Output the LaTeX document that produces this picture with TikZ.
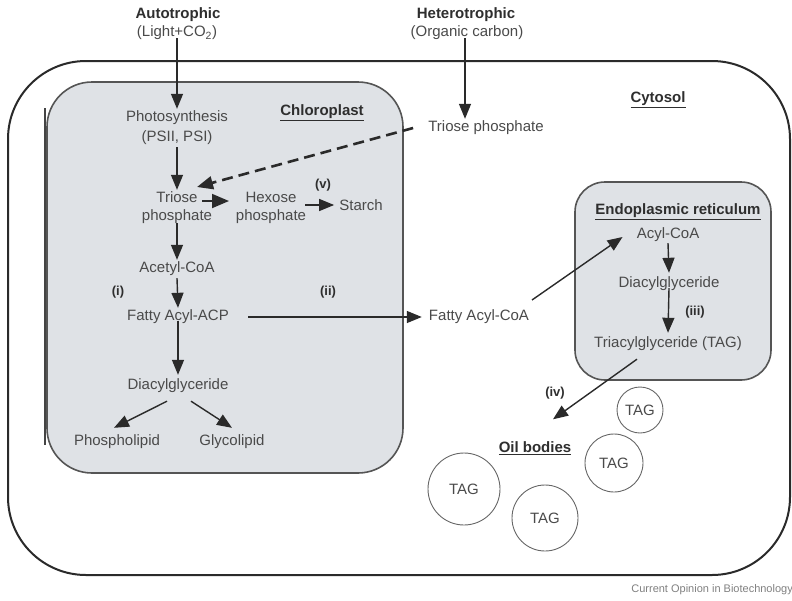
\documentclass[tikz,border=0pt]{standalone}
\usepackage{fontspec}
\setmainfont{Liberation Sans}
\usetikzlibrary{arrows.meta}
\definecolor{txtc}{HTML}{4A4A4A}
\definecolor{lblc}{HTML}{2E2E2E}
\definecolor{arrc}{HTML}{2A2A2A}
\definecolor{orgfill}{HTML}{DFE2E6}
\definecolor{orgline}{HTML}{555555}
\tikzset{
  txt/.style={font=\fontsize{15}{18}\selectfont, text=txtc, inner sep=2pt, align=center},
  lbl/.style={font=\fontsize{15}{18}\selectfont\bfseries, text=lblc, inner sep=2pt},
  num/.style={font=\fontsize{13}{15}\selectfont\bfseries, text=lblc, inner sep=1pt},
  arr/.style={draw=arrc, line width=1.4pt, -{Triangle[length=15pt,width=12pt]}},
  organelle/.style={draw=orgline, fill=orgfill, line width=1.6pt},
  drop/.style={circle, draw=gray!80!black, line width=0.9pt, font=\fontsize{15}{18}\selectfont, text=txtc, inner sep=0pt},
}
\begin{document}
\begin{tikzpicture}[x=1pt,y=-1pt]
\useasboundingbox (0,0) rectangle (792,600);
% cell
\node[draw=arrc, line width=2pt, rounded corners=78pt, minimum width=782pt, minimum height=514pt, inner sep=0pt] (cell) at (399,318) {};
% chloroplast
\node[organelle, rounded corners=45pt, minimum width=356pt, minimum height=391pt, inner sep=0pt] (chl) at (225,277.5) {};
\draw[draw=orgline!80!black, line width=1.4pt] (45,108) -- (45,445);
% ER
\node[organelle, rounded corners=30pt, minimum width=196pt, minimum height=198pt, inner sep=0pt] (er) at (673,281) {};

% top inputs
\node[lbl] (auto) at (178,15) {Autotrophic};
\node[txt] (autol) at (177,33) {(Light+CO\textsubscript{2})};
\node[lbl] (het) at (466,15) {Heterotrophic};
\node[txt] (hetl) at (467,33) {(Organic carbon)};

% labels
\node[lbl] (chllbl) at (322,113) {\underline{Chloroplast}};
\node[lbl] (cyt) at (658,100) {\underline{Cytosol}};
\node[lbl] (erlbl) at (678,212) {\underline{Endoplasmic reticulum}};
\node[lbl] (oil) at (535,448) {\underline{Oil bodies}};

% chloroplast contents
\node[txt] (ps) at (177,118) {Photosynthesis};
\node[txt] (ps2) at (177,138) {(PSII, PSI)};
\node[txt] (tri) at (177,208) {Triose\\phosphate};
\node[txt] (hex) at (271,208) {Hexose\\phosphate};
\node[txt] (starch) at (361,205) {Starch};
\node[num] (v) at (323,185) {(v)};
\node[txt] (acetyl) at (177,269) {Acetyl-CoA};
\node[num] (i) at (118,292) {(i)};
\node[txt] (faacp) at (178,317) {Fatty Acyl-ACP};
\node[num] (ii) at (328,292) {(ii)};
\node[txt] (dag) at (178,386) {Diacylglyceride};
\node[txt] (phos) at (117,442) {Phospholipid};
\node[txt] (gly) at (232,442) {Glycolipid};

% cytosol
\node[txt] (tpc) at (486,128) {Triose phosphate};
\node[txt] (fac) at (479,317) {Fatty Acyl-CoA};

% ER contents
\node[txt] (acyl) at (668,235) {Acyl-CoA};
\node[txt] (erdag) at (669,284) {Diacylglyceride};
\node[num] (iii) at (695,312) {(iii)};
\node[txt] (tag) at (668,344) {Triacylglyceride (TAG)};
\node[num] (iv) at (555,393) {(iv)};

% oil bodies
\node[drop, minimum size=46pt] (t1) at (640,410) {TAG};
\node[drop, minimum size=58pt] (t2) at (614,463) {TAG};
\node[drop, minimum size=72pt] (t3) at (464,489) {TAG};
\node[drop, minimum size=66pt] (t4) at (545,518) {TAG};

\node[font=\fontsize{11}{13}\selectfont, text=gray, anchor=east, inner sep=0pt] (credit) at (793,590) {Current Opinion in Biotechnology};

% arrows
\draw[arr] ([yshift=4]autol.south) -- (ps.north);
\draw[arr] ([yshift=4]hetl.south -| 465,0) -- (tpc.north -| 465,0);
\draw[arr] (ps2.south) -- (tri.north);
\draw[arr, line width=1.8pt, -{Triangle[length=17pt,width=14pt]}] ([shift={(25,-7)}]tri.center) -- ([shift={(-42,-7)}]hex.center);
\draw[arr] ([shift={(34,-3)}]hex.center) -- ([xshift=-3]starch.west);
\draw[arr] ([yshift=3]tri.south) -- (acetyl.north);
\draw[arr] (acetyl.south) -- (faacp.north);
\draw[arr] ([xshift=17]faacp.east) -- ([xshift=-5]fac.west);
\draw[arr] ([yshift=5]faacp.south) -- ([yshift=2]dag.north);
\draw[arr] ([shift={(-11,6)}]dag.south) -- ([shift={(-3,-5)}]phos.north);
\draw[arr] ([shift={(13,6)}]dag.south) -- ([shift={(0,-5)}]gly.north);
\draw[arr, line width=2.6pt, dash pattern=on 11pt off 6pt, -{Triangle[length=16pt,width=13pt]}] ([xshift=-13]tpc.west) -- ([shift={(20,-21)}]tri.center);
\draw[arr] ([shift={(53,-17)}]fac.center) -- ([shift={(-12,2)}]acyl.west);
\draw[arr] ([yshift=1]acyl.south) -- ([yshift=2]erdag.north);
\draw[arr] ([yshift=5]erdag.south) -- ([yshift=2]tag.north);
\draw[arr] ([shift={(-31,6)}]tag.south) -- ([shift={(18,-20)}]oil.north);
\end{tikzpicture}
\end{document}
